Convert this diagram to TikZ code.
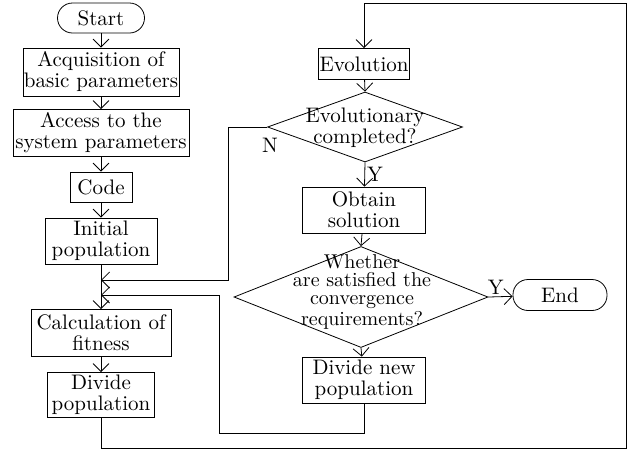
\documentclass[tikz,border=0pt]{standalone}
\usetikzlibrary{shapes.geometric, positioning, arrows.meta}
\tikzset{
->, % every connector is directed
>={Straight Barb[length=4pt, width=8pt]}, % open arrow heads
x=0.5pt, y=-0.5pt, % one unit is one pixel of the sketch
line width=0.7pt,
box/.style={draw, rectangle, align=center, inner sep=0pt, font=\fontsize{10.5}{10.5}\selectfont}, % process steps
term/.style={box, rounded corners=7.5pt}, % start and end
choice/.style={draw, diamond, inner sep=0pt, minimum width=#1}, % decisions, drawn empty
choicetext/.style={align=center, inner sep=0pt, font=\fontsize{10.5}{#1}\selectfont},
lab/.style={font=\fontsize{10.5}{10.5}\selectfont, inner sep=1pt},
}
\begin{document}
\begin{tikzpicture}
\useasboundingbox (0,0) rectangle (631,451);

        % left column
        \node[term, minimum width=43.5pt, minimum height=15pt] (start) at (101,18) {Start};
        \node[box, minimum width=78pt, minimum height=24pt] (acq) at (101,72) {Acquisition of\\basic parameters};
        \node[box, minimum width=88pt, minimum height=23.5pt] (acc) at (101,133) {Access to the\\system parameters};
        \node[box, minimum width=31pt, minimum height=15pt] (code) at (101,187) {Code};
        \node[box, minimum width=56pt, minimum height=23pt] (init) at (101,241) {Initial\\population};
        \node[box, minimum width=70pt, minimum height=23.5pt] (calc) at (101,333) {Calculation of\\fitness};
        \node[box, minimum width=53.5pt, minimum height=22.5pt] (divp) at (101,395) {Divide\\population};

        % right column
        \node[box, minimum width=45.5pt, minimum height=15.5pt] (evo) at (364,64) {Evolution};
        \node[choice=97.5pt, minimum height=35pt] (dec1) at (365,127) {};
        \node[choicetext=9.5] (dec1t) at (365,128) {Evolutionary\\completed?};
        \node[box, minimum width=61.5pt, minimum height=23pt] (sol) at (364,210) {Obtain\\solution};
        \node[choice=127pt, minimum height=50.5pt] (dec2) at (361,297) {};
        \node[choicetext=9, font=\fontsize{10}{9}\selectfont] (dec2t) at (362,292) {Whether\\are satisfied the\\convergence\\requirements?};
        \node[box, minimum width=61.5pt, minimum height=23pt] (divn) at (364,380) {Divide new\\population};
        \node[term, minimum width=47pt, minimum height=15.5pt] (end) at (560,295) {End};

        % joints of the loops
        \coordinate (j1) at (101,280);
        \coordinate (j2) at (101,295);
        \coordinate (bl) at (101,448);
        \coordinate (br) at (626,448);
        \coordinate (tr) at (626,3);
        \coordinate (tl) at (364,3);
        \coordinate (nl) at (228,127);
        \coordinate (dl) at (219,433);

        \draw (start) -- (acq);
        \draw (acq) -- (acc);
        \draw (acc) -- (code);
        \draw (code) -- (init);
        \draw (init) -- (calc);
        \draw (calc) -- (divp);
        \draw (divp.south) -- (bl) -- (br) -- (tr) -- (tl) -- (evo.north);
        \draw (evo) -- (dec1.north);
        \draw (dec1.south) -- node[lab, right] {Y} (sol);
        \draw (dec1.west) -- (nl) |- (j1);
        \node[lab] (n) at (270,145) {N};
        \draw (sol) -- (dec2.north);
        \draw (dec2.east) -- node[lab, above, pos=0.3] {Y} (end);
        \draw (dec2.south) -- (divn);
        \draw (divn.south) |- (dl) |- (j2);
    \end{tikzpicture}
\end{document}
